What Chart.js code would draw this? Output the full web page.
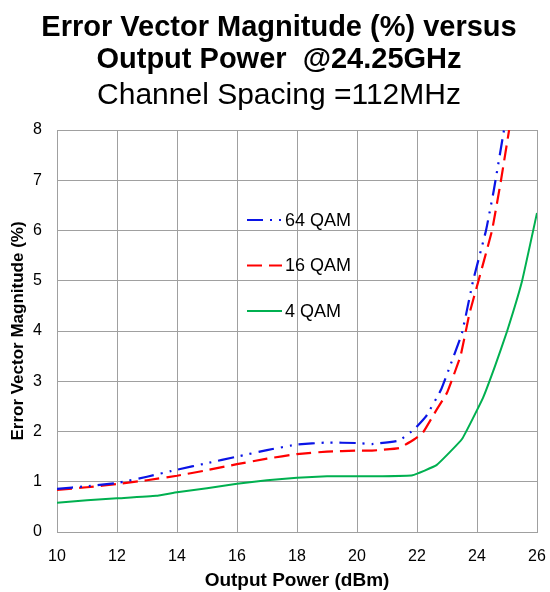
<!DOCTYPE html>
<html>
<head>
<meta charset="utf-8">
<script src="https://cdn.jsdelivr.net/npm/chart.js@4.4.1/dist/chart.umd.min.js"></script>
<style>
  html, body { margin: 0; padding: 0; background: #fff; }
  #wrap { width: 550px; height: 592px; }
</style>
</head>
<body>
<div id="wrap"><canvas id="c" width="550" height="592"></canvas></div>
<script>
// Output power (dBm) and EVM (%) per modulation
const qam64Power = [10, 11, 12, 13, 14, 15, 16, 17, 18, 19, 20, 20.5, 21.4, 21.9, 22.3, 22.8, 23.1, 23.5, 23.87, 24.3, 24.56, 24.9];
const qam64Evm   = [0.86, 0.91, 0.975, 1.1, 1.24, 1.37, 1.5, 1.63, 1.74, 1.78, 1.77, 1.75, 1.82, 2.04, 2.3, 2.83, 3.3, 3.96, 5.0, 6.0, 6.8, 8.0];

const qam16Power = [10, 11, 12, 13, 14, 15, 16, 17, 18, 19, 20, 20.5, 21.4, 21.9, 22.2, 22.65, 23.0, 23.45, 23.75, 24.05, 24.5, 24.8, 25.07];
const qam16Evm   = [0.84, 0.89, 0.955, 1.03, 1.12, 1.23, 1.35, 1.46, 1.55, 1.6, 1.62, 1.62, 1.67, 1.84, 1.98, 2.43, 2.77, 3.5, 4.35, 5.0, 6.0, 7.0, 8.0];

const qam4Power  = [10, 11, 12, 13.3, 14, 15, 16, 17, 18, 19, 20, 20.8, 21.85, 22.65, 23.5, 24.2, 24.6, 25.0, 25.5, 26];
const qam4Evm    = [0.58, 0.63, 0.67, 0.72, 0.79, 0.87, 0.96, 1.03, 1.08, 1.11, 1.11, 1.11, 1.13, 1.33, 1.85, 2.67, 3.3, 3.99, 4.99, 6.35];

const seriesLabels = ['64 QAM', '16 QAM', '4 QAM'];
const xRange = [10, 26];
const yRange = [0, 8];

const titleLines = ['Error Vector Magnitude (%) versus', 'Output Power  @24.25GHz'];
const subtitleText = 'Channel Spacing =112MHz';
const xAxisTitle = 'Output Power (dBm)';
const yAxisTitle = 'Error Vector Magnitude (%)';

const FONT = '"Liberation Sans", Arial, Helvetica, sans-serif';
const GRID = '#a0a0a0';

function pts(xs, ys) { return xs.map((x, i) => ({ x: x, y: ys[i] })); }

// Legend drawn inside the plot area, lines on the left and labels on the right
const innerLegend = {
  id: 'innerLegend',
  afterDatasetsDraw(chart) {
    const { ctx, chartArea } = chart;
    const x0 = chartArea.left + 190;
    const x1 = x0 + 35;
    const y0 = chartArea.top + 90;
    const gap = 45.5;
    ctx.save();
    chart.data.datasets.forEach((ds, i) => {
      const y = y0 + i * gap;
      ctx.beginPath();
      ctx.strokeStyle = ds.borderColor;
      ctx.lineWidth = ds.borderWidth;
      ctx.setLineDash(ds.borderDash || []);
      ctx.moveTo(x0, y);
      ctx.lineTo(x1, y);
      ctx.stroke();
      ctx.setLineDash([]);
      ctx.fillStyle = '#000';
      ctx.font = '18px ' + FONT;
      ctx.textBaseline = 'middle';
      ctx.textAlign = 'left';
      ctx.fillText(ds.label, x1 + 3, y + 1);
    });
    ctx.restore();
  }
};

new Chart(document.getElementById('c'), {
  type: 'line',
  data: {
    datasets: [
      { label: seriesLabels[0], data: pts(qam64Power, qam64Evm), borderColor: '#0a14e6', borderWidth: 2.2,
        borderDash: [16, 7, 2, 7, 2, 7] },
      { label: seriesLabels[1], data: pts(qam16Power, qam16Evm), borderColor: '#ff0000', borderWidth: 2.2,
        borderDash: [15, 7] },
      { label: seriesLabels[2], data: pts(qam4Power, qam4Evm), borderColor: '#00b050', borderWidth: 2,
        borderDash: [] }
    ]
  },
  options: {
    responsive: false,
    animation: false,
    devicePixelRatio: 1,
    layout: { padding: { left: 8, right: 0, top: 0, bottom: 0 } },
    elements: {
      point: { radius: 0 },
      line: { tension: 0.1, fill: false }
    },
    plugins: {
      legend: { display: false },
      tooltip: { enabled: false },
      title: {
        display: true,
        text: titleLines,
        color: '#000',
        font: { family: FONT, size: 29, weight: 'bold', lineHeight: 32 / 29 },
        padding: { top: 12, bottom: 0 }
      },
      subtitle: {
        display: true,
        text: subtitleText,
        color: '#000',
        font: { family: FONT, size: 30, weight: 'normal', lineHeight: 1.2 },
        padding: { top: 2, bottom: 16 }
      }
    },
    scales: {
      x: {
        type: 'linear',
        min: xRange[0], max: xRange[1],
        border: { color: GRID, width: 1 },
        grid: { color: GRID, lineWidth: 1, drawTicks: false },
        ticks: { stepSize: 2, color: '#000', font: { family: FONT, size: 16 }, padding: 15, maxRotation: 0 },
        title: { display: true, text: xAxisTitle, color: '#000',
                 font: { family: FONT, size: 19, weight: 'bold', lineHeight: 1.2 }, padding: { top: 0, bottom: 0 } },
        afterFit(scale) {
          scale.height = 60;
          scale.paddingLeft = 0;
          scale.paddingRight = 13;
        }
      },
      y: {
        min: yRange[0], max: yRange[1],
        border: { color: GRID, width: 1 },
        grid: { color: GRID, lineWidth: 1, drawTicks: false },
        ticks: { stepSize: 1, color: '#000', font: { family: FONT, size: 16 }, padding: 15 },
        title: { display: true, text: yAxisTitle, color: '#000',
                 font: { family: FONT, size: 17, weight: 'bold', lineHeight: 1.2 }, padding: { top: 0, bottom: 0 } },
        afterFit(scale) { scale.width = 49; }
      }
    }
  },
  plugins: [innerLegend]
});
</script>
</body>
</html>
